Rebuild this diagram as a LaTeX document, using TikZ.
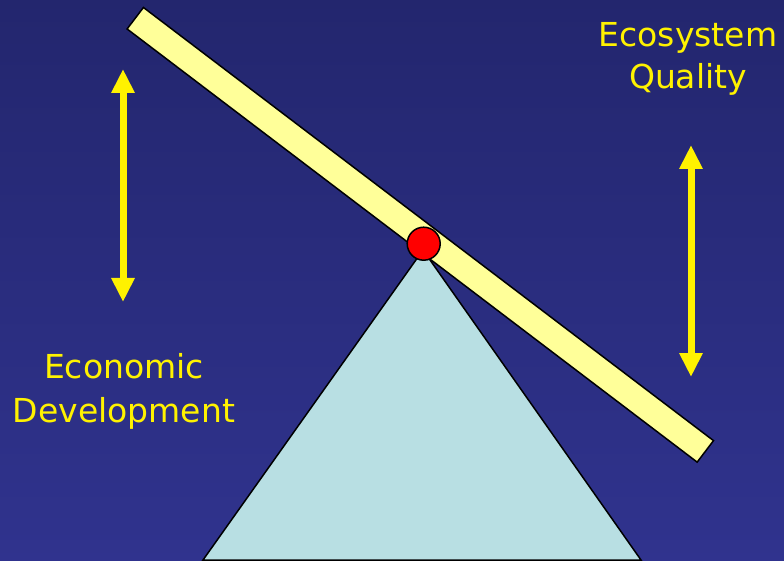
\documentclass[tikz,border=0pt]{standalone}
\usepackage{fontspec}
\setmainfont{DejaVu Sans}
\usetikzlibrary{arrows.meta}

\definecolor{skytop}{RGB}{35,38,110}
\definecolor{skybottom}{RGB}{48,51,142}
\definecolor{plankyellow}{RGB}{255,255,153}
\definecolor{fulcrumblue}{RGB}{184,223,227}

\begin{document}
\begin{tikzpicture}[
    x=1pt, y=-1pt,
    plank/.style={draw, line width=1.5pt, fill=plankyellow, rotate=-37.23,
                  minimum width=716pt, minimum height=27pt, inner sep=0pt},
    pivot/.style={circle, draw, line width=1.5pt, fill=red,
                  minimum size=33pt, inner sep=0pt},
    swing/.style={{Triangle[length=24pt,width=22pt]}-{Triangle[length=24pt,width=22pt]},
                  line width=7pt, yellow},
    caption/.style={text=yellow, anchor=base, inner sep=0pt,
                    font=\fontsize{33}{40}\selectfont}
]
\useasboundingbox (0,0) rectangle (784,561);
\shade[top color=skytop, bottom color=skybottom] (0,0) rectangle (784,561);

% fulcrum
\coordinate (apex) at (423,250);
\coordinate (baseL) at (203,560);
\coordinate (baseR) at (641,560);
\begin{scope}
\clip (0,0) rectangle (784,561);
\draw[line width=1.5pt, fill=fulcrumblue] (baseL) -- (apex) -- (baseR) -- cycle;
\end{scope}

% seesaw
\node[plank] (board) at (420.3,234.8) {};
\node[pivot] (hinge) at (423.7,243.7) {};

% movement arrows
\coordinate (econtop) at (123,69);
\coordinate (econbot) at (123,302);
\coordinate (ecotop) at (691,145);
\coordinate (ecobot) at (691,377);
\draw[swing] (econbot) -- (econtop);
\draw[swing] (ecobot) -- (ecotop);

% labels
\node[caption] (ecosys) at (688,47) {Ecosystem};
\node[caption] (quality) at (688,89) {Quality};
\node[caption] (econ) at (124,378) {Economic};
\node[caption] (devel) at (124,422) {Development};
\end{tikzpicture}
\end{document}
